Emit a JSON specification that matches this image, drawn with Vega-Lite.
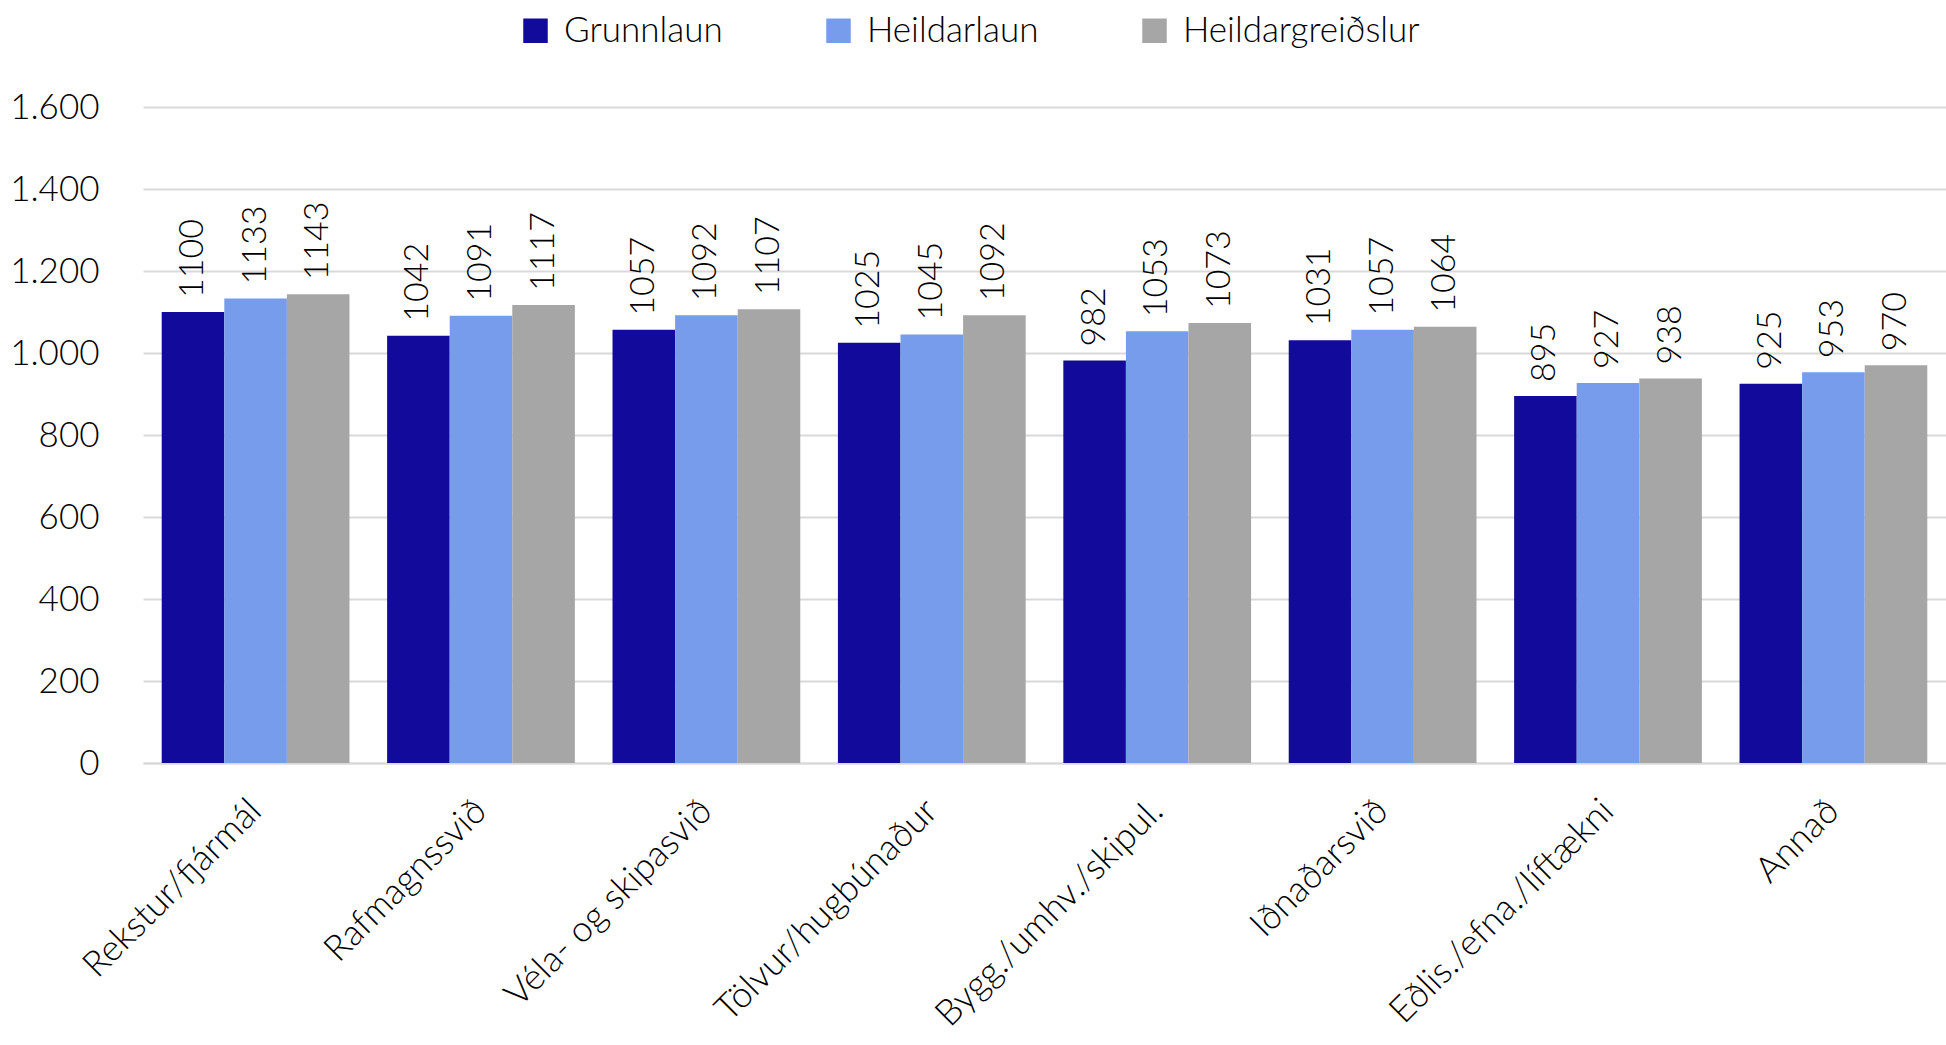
{
  "$schema": "https://vega.github.io/schema/vega-lite/v6.json",
  "autosize": {"type": "none"},
  "padding": {"left": 143, "top": 107, "right": 0, "bottom": 282},
  "width": 1803,
  "height": 656,
  "background": "white",
  "config": {
    "view": {"stroke": null},
    "font": "Lato",
    "axis": {"labelFont": "Lato", "labelFontWeight": 300, "labelColor": "#000000"},
    "legend": {"labelFont": "Lato", "labelFontWeight": 300, "labelColor": "#000000"}
  },
  "data": {
    "values": [
      {"cat": "Rekstur/fjármál", "series": "Grunnlaun", "value": 1100},
      {"cat": "Rekstur/fjármál", "series": "Heildarlaun", "value": 1133},
      {"cat": "Rekstur/fjármál", "series": "Heildargreiðslur", "value": 1143},
      {"cat": "Rafmagnssvið", "series": "Grunnlaun", "value": 1042},
      {"cat": "Rafmagnssvið", "series": "Heildarlaun", "value": 1091},
      {"cat": "Rafmagnssvið", "series": "Heildargreiðslur", "value": 1117},
      {"cat": "Véla- og skipasvið", "series": "Grunnlaun", "value": 1057},
      {"cat": "Véla- og skipasvið", "series": "Heildarlaun", "value": 1092},
      {"cat": "Véla- og skipasvið", "series": "Heildargreiðslur", "value": 1107},
      {"cat": "Tölvur/hugbúnaður", "series": "Grunnlaun", "value": 1025},
      {"cat": "Tölvur/hugbúnaður", "series": "Heildarlaun", "value": 1045},
      {"cat": "Tölvur/hugbúnaður", "series": "Heildargreiðslur", "value": 1092},
      {"cat": "Bygg./umhv./skipul.", "series": "Grunnlaun", "value": 982},
      {"cat": "Bygg./umhv./skipul.", "series": "Heildarlaun", "value": 1053},
      {"cat": "Bygg./umhv./skipul.", "series": "Heildargreiðslur", "value": 1073},
      {"cat": "Iðnaðarsvið", "series": "Grunnlaun", "value": 1031},
      {"cat": "Iðnaðarsvið", "series": "Heildarlaun", "value": 1057},
      {"cat": "Iðnaðarsvið", "series": "Heildargreiðslur", "value": 1064},
      {"cat": "Eðlis./efna./líftækni", "series": "Grunnlaun", "value": 895},
      {"cat": "Eðlis./efna./líftækni", "series": "Heildarlaun", "value": 927},
      {"cat": "Eðlis./efna./líftækni", "series": "Heildargreiðslur", "value": 938},
      {"cat": "Annað", "series": "Grunnlaun", "value": 925},
      {"cat": "Annað", "series": "Heildarlaun", "value": 953},
      {"cat": "Annað", "series": "Heildargreiðslur", "value": 970}
    ]
  },
  "encoding": {
    "x": {
      "field": "cat", "type": "nominal", "sort": null,
      "scale": {"paddingInner": 0.167, "paddingOuter": 0.083},
      "axis": {
        "title": null, "labelAngle": -45, "labelAlign": "right", "labelBaseline": "middle",
        "labelFontSize": 36, "labelPadding": 42, "ticks": false,
        "domainColor": "#D9D9D9", "domainWidth": 2, "grid": false, "labelLimit": 1000
      }
    },
    "xOffset": {"field": "series", "type": "nominal", "sort": ["Grunnlaun", "Heildarlaun", "Heildargreiðslur"], "scale": {"paddingInner": 0, "paddingOuter": 0}},
    "y": {
      "field": "value", "type": "quantitative",
      "scale": {"domain": [0, 1600], "nice": false},
      "axis": {
        "title": null, "values": [0, 200, 400, 600, 800, 1000, 1200, 1400, 1600],
        "labelExpr": "replace(format(datum.value, ','), ',', '.')",
        "labelFontSize": 35, "labelPadding": 44, "ticks": false, "domain": false,
        "gridColor": "#D9D9D9", "gridWidth": 2
      }
    }
  },
  "layer": [
    {
      "mark": {"type": "bar"},
      "encoding": {
        "color": {
          "field": "series", "type": "nominal",
          "sort": ["Grunnlaun", "Heildarlaun", "Heildargreiðslur"],
          "scale": {"domain": ["Grunnlaun", "Heildarlaun", "Heildargreiðslur"], "range": ["#120A9A", "#779CEB", "#A6A6A6"]},
          "legend": {
            "title": null, "orient": "none", "legendX": 375, "legendY": -94,
            "direction": "horizontal", "symbolType": "square", "symbolSize": 600,
            "symbolStrokeWidth": 0, "labelFontSize": 35, "labelOffset": 11,
            "columnPadding": 98, "padding": 0, "labelLimit": 1000
          }
        }
      }
    },
    {
      "mark": {"type": "text", "angle": -90, "align": "left", "baseline": "middle", "dx": 14, "fontSize": 34, "fontWeight": 300, "font": "Lato", "color": "#000000"},
      "encoding": {
        "text": {"field": "value", "type": "quantitative", "format": "d"}
      }
    }
  ]
}
